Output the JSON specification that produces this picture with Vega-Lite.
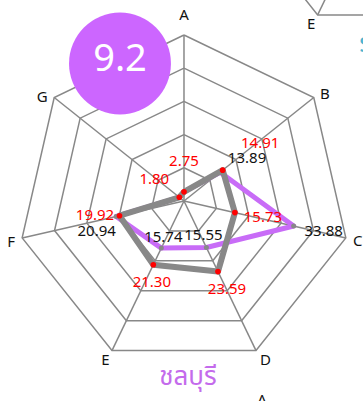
{
  "$schema": "https://vega.github.io/schema/vega-lite/v6.json",
  "width": 363,
  "height": 401,
  "autosize": {"type": "none"},
  "padding": 0,
  "background": "white",
  "config": {"view": {"stroke": null}, "text": {"font": "Noto Sans"}},
  "datasets": {
    "axes": [
      {"axis": "A"}, {"axis": "B"}, {"axis": "C"}, {"axis": "D"},
      {"axis": "E"}, {"axis": "F"}, {"axis": "G"}
    ],
    "scores": [
      {"series": "s1", "axis": "A", "value": 2.75},
      {"series": "s1", "axis": "B", "value": 14.91},
      {"series": "s1", "axis": "C", "value": 15.73},
      {"series": "s1", "axis": "D", "value": 23.59},
      {"series": "s1", "axis": "E", "value": 21.30},
      {"series": "s1", "axis": "F", "value": 19.92},
      {"series": "s1", "axis": "G", "value": 1.80},
      {"series": "s2", "axis": "A", "value": 2.75},
      {"series": "s2", "axis": "B", "value": 13.89},
      {"series": "s2", "axis": "C", "value": 33.88},
      {"series": "s2", "axis": "D", "value": 15.55},
      {"series": "s2", "axis": "E", "value": 15.74},
      {"series": "s2", "axis": "F", "value": 20.94},
      {"series": "s2", "axis": "G", "value": 1.80}
    ],
    "badge": [{"score": 9.2}],
    "names": [{"province": "ชลบุรี", "next": "ระยอง"}]
  },
  "layer": [
    {
      "data": {"name": "axes"},
      "transform": [
        {"calculate": "indexof('ABCDEFG', datum.axis)", "as": "i"},
        {"calculate": "datum.i == 0 ? [0, 7] : [datum.i]", "as": "step"},
        {"flatten": ["step"]},
        {"calculate": "[10, 20, 30, 40, 50]", "as": "level"},
        {"flatten": ["level"]},
        {"calculate": "datum.level * sin(datum.step * 2 * PI / 7)", "as": "gx"},
        {"calculate": "datum.level * cos(datum.step * 2 * PI / 7)", "as": "gy"}
      ],
      "mark": {"type": "line", "color": "#888888", "strokeWidth": 1.5},
      "encoding": {
        "x": {"field": "gx", "type": "quantitative", "scale": {"domain": [-55.42, 53.92], "nice": false, "zero": false}, "axis": null},
        "y": {"field": "gy", "type": "quantitative", "scale": {"domain": [-60.24, 60.54], "nice": false, "zero": false}, "axis": null},
        "detail": {"field": "level"},
        "order": {"field": "step"}
      }
    },
    {
      "data": {"name": "axes"},
      "transform": [
        {"calculate": "indexof('ABCDEFG', datum.axis)", "as": "i"},
        {"calculate": "50 * sin(datum.i * 2 * PI / 7)", "as": "ex"},
        {"calculate": "50 * cos(datum.i * 2 * PI / 7)", "as": "ey"}
      ],
      "mark": {"type": "rule", "color": "#888888", "strokeWidth": 1.5},
      "encoding": {
        "x": {"field": "ex", "type": "quantitative"},
        "y": {"field": "ey", "type": "quantitative"},
        "x2": {"datum": 0},
        "y2": {"datum": 0}
      }
    },
    {
      "data": {"name": "axes"},
      "transform": [
        {"calculate": "indexof('ABCDEFG', datum.axis)", "as": "i"},
        {"calculate": "50 * sin(datum.i * 2 * PI / 7)", "as": "ex"},
        {"calculate": "50 * cos(datum.i * 2 * PI / 7)", "as": "ey"}
      ],
      "layer": [
        {"transform": [{"filter": "datum.axis == 'A'"}], "mark": {"type": "text", "fontSize": 15, "color": "#111111", "dy": -19.5}, "encoding": {"x": {"field": "ex", "type": "quantitative"}, "y": {"field": "ey", "type": "quantitative"}, "text": {"field": "axis"}}},
        {"transform": [{"filter": "datum.axis == 'B'"}], "mark": {"type": "text", "fontSize": 15, "color": "#111111", "dx": 11, "dy": -3}, "encoding": {"x": {"field": "ex", "type": "quantitative"}, "y": {"field": "ey", "type": "quantitative"}, "text": {"field": "axis"}}},
        {"transform": [{"filter": "datum.axis == 'C'"}], "mark": {"type": "text", "fontSize": 15, "color": "#111111", "dx": 12, "dy": 3.5}, "encoding": {"x": {"field": "ex", "type": "quantitative"}, "y": {"field": "ey", "type": "quantitative"}, "text": {"field": "axis"}}},
        {"transform": [{"filter": "datum.axis == 'D'"}], "mark": {"type": "text", "fontSize": 15, "color": "#111111", "dx": 9.5, "dy": 9}, "encoding": {"x": {"field": "ex", "type": "quantitative"}, "y": {"field": "ey", "type": "quantitative"}, "text": {"field": "axis"}}},
        {"transform": [{"filter": "datum.axis == 'E'"}], "mark": {"type": "text", "fontSize": 15, "color": "#111111", "dx": -6.5, "dy": 9.5}, "encoding": {"x": {"field": "ex", "type": "quantitative"}, "y": {"field": "ey", "type": "quantitative"}, "text": {"field": "axis"}}},
        {"transform": [{"filter": "datum.axis == 'F'"}], "mark": {"type": "text", "fontSize": 15, "color": "#111111", "dx": -11, "dy": 4.5}, "encoding": {"x": {"field": "ex", "type": "quantitative"}, "y": {"field": "ey", "type": "quantitative"}, "text": {"field": "axis"}}},
        {"transform": [{"filter": "datum.axis == 'G'"}], "mark": {"type": "text", "fontSize": 15, "color": "#111111", "dx": -12, "dy": -0.5}, "encoding": {"x": {"field": "ex", "type": "quantitative"}, "y": {"field": "ey", "type": "quantitative"}, "text": {"field": "axis"}}}
      ]
    },
    {
      "data": {"name": "axes"},
      "transform": [
        {"filter": "indexof(['D', 'E', 'F'], datum.axis) >= 0"},
        {"calculate": "indexof('ABCDEFG', datum.axis)", "as": "i"},
        {"calculate": "61.96 + 50 * sin(datum.i * 2 * PI / 7)", "as": "nx"},
        {"calculate": "101.1 + 50 * cos(datum.i * 2 * PI / 7)", "as": "ny"}
      ],
      "layer": [
        {
          "mark": {"type": "line", "color": "#888888", "strokeWidth": 1.5},
          "encoding": {
            "x": {"field": "nx", "type": "quantitative"},
            "y": {"field": "ny", "type": "quantitative"},
            "order": {"field": "i"}
          }
        },
        {
          "transform": [{"filter": "datum.axis == 'E'"}],
          "mark": {"type": "rule", "color": "#888888", "strokeWidth": 1.5},
          "encoding": {
            "x": {"field": "nx", "type": "quantitative"},
            "y": {"field": "ny", "type": "quantitative"},
            "x2": {"datum": 61.96},
            "y2": {"datum": 101.1}
          }
        },
        {
          "transform": [{"filter": "datum.axis == 'E'"}],
          "mark": {"type": "text", "fontSize": 15, "color": "#111111", "dx": -6.5, "dy": 9.5},
          "encoding": {
            "x": {"field": "nx", "type": "quantitative"},
            "y": {"field": "ny", "type": "quantitative"},
            "text": {"field": "axis"}
          }
        }
      ]
    },
    {
      "data": {"name": "axes"},
      "transform": [{"filter": "datum.axis == 'A'"}],
      "mark": {"type": "text", "fontSize": 15, "color": "#111111", "dy": -19.5},
      "encoding": {
        "x": {"datum": 23.49},
        "y": {"datum": -65.96},
        "text": {"field": "axis"}
      }
    },
    {
      "data": {"name": "scores"},
      "transform": [
        {"calculate": "indexof('ABCDEFG', datum.axis)", "as": "i"},
        {"calculate": "datum.i == 0 ? [0, 7] : [datum.i]", "as": "step"},
        {"flatten": ["step"]},
        {"calculate": "datum.value * sin(datum.step * 2 * PI / 7)", "as": "px"},
        {"calculate": "datum.value * cos(datum.step * 2 * PI / 7)", "as": "py"}
      ],
      "layer": [
        {
          "transform": [{"filter": "datum.series == 's2'"}],
          "mark": {"type": "line", "color": "#c86cf7", "strokeWidth": 5, "strokeJoin": "round"},
          "encoding": {
            "x": {"field": "px", "type": "quantitative"},
            "y": {"field": "py", "type": "quantitative"},
            "order": {"field": "step"}
          }
        },
        {
          "transform": [{"filter": "datum.series == 's1'"}],
          "mark": {"type": "line", "color": "#888888", "strokeWidth": 6, "strokeJoin": "round"},
          "encoding": {
            "x": {"field": "px", "type": "quantitative"},
            "y": {"field": "py", "type": "quantitative"},
            "order": {"field": "step"}
          }
        }
      ]
    },
    {
      "data": {"name": "scores"},
      "transform": [
        {"calculate": "indexof('ABCDEFG', datum.axis)", "as": "i"},
        {"calculate": "datum.value * sin(datum.i * 2 * PI / 7)", "as": "px"},
        {"calculate": "datum.value * cos(datum.i * 2 * PI / 7)", "as": "py"}
      ],
      "encoding": {
        "x": {"field": "px", "type": "quantitative"},
        "y": {"field": "py", "type": "quantitative"},
        "text": {"field": "value", "type": "quantitative", "format": ".2f"}
      },
      "layer": [
        {"transform": [{"filter": "datum.series == 's2'"}], "mark": {"type": "point", "filled": true, "color": "#888888", "size": 25, "opacity": 1}},
        {"transform": [{"filter": "datum.series == 's1'"}], "mark": {"type": "point", "filled": true, "color": "#ff0000", "size": 32, "opacity": 1}},
        {"transform": [{"filter": "datum.series == 's2' && datum.axis == 'B'"}], "mark": {"type": "text", "fontSize": 15, "color": "#111111", "dx": 27, "dy": -14}},
        {"transform": [{"filter": "datum.series == 's2' && datum.axis == 'C'"}], "mark": {"type": "text", "fontSize": 15, "color": "#111111", "dx": 30, "dy": 5}},
        {"transform": [{"filter": "datum.series == 's2' && datum.axis == 'D'"}], "mark": {"type": "text", "fontSize": 15, "color": "#111111", "dx": -3, "dy": -12.5}},
        {"transform": [{"filter": "datum.series == 's2' && datum.axis == 'E'"}], "mark": {"type": "text", "fontSize": 15, "color": "#111111", "dx": 2, "dy": -11}},
        {"transform": [{"filter": "datum.series == 's2' && datum.axis == 'F'"}], "mark": {"type": "text", "fontSize": 15, "color": "#111111", "dx": -19.5, "dy": 15}},
        {"transform": [{"filter": "datum.series == 's1' && datum.axis == 'A'"}], "mark": {"type": "text", "fontSize": 15, "color": "#ff0000", "dx": 0, "dy": -31}},
        {"transform": [{"filter": "datum.series == 's1' && datum.axis == 'B'"}], "mark": {"type": "text", "fontSize": 15, "color": "#ff0000", "dx": 37.5, "dy": -27}},
        {"transform": [{"filter": "datum.series == 's1' && datum.axis == 'C'"}], "mark": {"type": "text", "fontSize": 15, "color": "#ff0000", "dx": 28, "dy": 4.7}},
        {"transform": [{"filter": "datum.series == 's1' && datum.axis == 'D'"}], "mark": {"type": "text", "fontSize": 15, "color": "#ff0000", "dx": 9, "dy": 17}},
        {"transform": [{"filter": "datum.series == 's1' && datum.axis == 'E'"}], "mark": {"type": "text", "fontSize": 15, "color": "#ff0000", "dx": -1.5, "dy": 17}},
        {"transform": [{"filter": "datum.series == 's1' && datum.axis == 'F'"}], "mark": {"type": "text", "fontSize": 15, "color": "#ff0000", "dx": -24.5, "dy": -0.7}},
        {"transform": [{"filter": "datum.series == 's1' && datum.axis == 'G'"}], "mark": {"type": "text", "fontSize": 15, "color": "#ff0000", "dx": -25, "dy": -18}}
      ]
    },
    {
      "data": {"name": "badge"},
      "encoding": {
        "x": {"datum": -19.28},
        "y": {"datum": 41.42}
      },
      "layer": [
        {"mark": {"type": "point", "shape": "circle", "filled": true, "color": "#cc66ff", "size": 10387, "opacity": 1}},
        {"mark": {"type": "text", "fontSize": 38, "color": "#ffffff", "dy": -3}, "encoding": {"text": {"field": "score", "type": "quantitative", "format": ".1f"}}}
      ]
    },
    {
      "data": {"name": "names"},
      "layer": [
        {
          "mark": {"type": "text", "fontSize": 26, "color": "#c46bec", "font": "Noto Sans Thai", "baseline": "alphabetic"},
          "encoding": {"x": {"datum": 1.2}, "y": {"datum": -55.42}, "text": {"field": "province"}}
        },
        {
          "mark": {"type": "text", "fontSize": 26, "color": "#4ab3d0", "font": "Noto Sans Thai", "baseline": "alphabetic"},
          "encoding": {"x": {"datum": 62.7}, "y": {"datum": 44.88}, "text": {"field": "next"}}
        }
      ]
    }
  ]
}
